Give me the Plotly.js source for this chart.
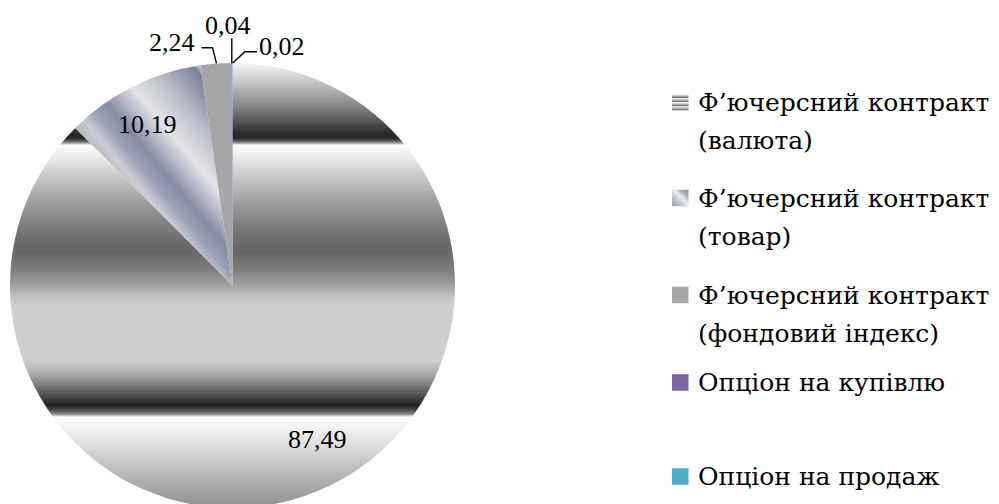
<!DOCTYPE html>
<html>
<head>
<meta charset="utf-8">
<script src="https://cdn.plot.ly/plotly-3.0.1.min.js"></script>
<style>
  html, body { margin: 0; padding: 0; background: #ffffff; overflow: hidden; }
  #chart { width: 999px; height: 508px; }
</style>
</head>
<body>
<div id="chart"></div>
<script>
// Структура обсягу торгів деривативами, %
const categories = [
  'Ф’ючерсний контракт (валюта)',
  'Ф’ючерсний контракт (товар)',
  'Ф’ючерсний контракт (фондовий індекс)',
  'Опціон на купівлю',
  'Опціон на продаж'
];
const legendLines = [
  ['Ф’ючерсний контракт', '(валюта)'],
  ['Ф’ючерсний контракт', '(товар)'],
  ['Ф’ючерсний контракт', '(фондовий індекс)'],
  ['Опціон на купівлю'],
  ['Опціон на продаж']
];
const shares = [87.49, 10.19, 2.24, 0.04, 0.02];
const sliceColors = ['#a0a0a0', '#b4b8c6', '#a6a6a6', '#8064a2', '#4bacc6'];

// page geometry (pixels)
const W = 999, H = 508;
const px = x => x / W;
const py = y => 1 - y / H;
const SERIF = 'Liberation Serif, DejaVu Serif, serif';
const SERIF_CYR = 'DejaVu Serif, serif';

// value label anchors, one per slice
const labelPos = [[317.5, 439], [147.5, 124], [172, 43], [227.5, 25], [281.5, 46.5]];
// leader lines for the small slices
const leaders = [
  [[201.5, 47.7], [212.5, 47.7], [216.5, 63.3]],
  [[231.8, 38.3], [231.8, 63.3]],
  [[257, 51.7], [245, 51.7], [232.6, 63]]
];
// legend rows: vertical centre of the first text line
const legendRowY = [102.5, 198, 295, 382.5, 476.5];
const legendLineGap = 38.5;

const fmt = v => v.toFixed(2).replace('.', ',');

const annotations = [];
shares.forEach((v, i) => {
  annotations.push({
    xref: 'paper', yref: 'paper',
    x: px(labelPos[i][0]), y: py(labelPos[i][1]),
    xanchor: 'center', yanchor: 'middle',
    text: fmt(v), showarrow: false,
    font: { family: SERIF, size: 26, color: '#000000' }
  });
});
legendLines.forEach((lines, i) => {
  lines.forEach((t, j) => {
    annotations.push({
      xref: 'paper', yref: 'paper',
      x: px(696), y: py(legendRowY[i] + j * legendLineGap),
      xanchor: 'left', yanchor: 'middle', align: 'left',
      text: t, showarrow: false,
      font: { family: SERIF_CYR, size: 25, color: '#000000' }
    });
  });
});

const shapes = [];
leaders.forEach(pts => {
  shapes.push({
    type: 'path', xref: 'paper', yref: 'paper',
    path: pts.map((p, k) => (k ? 'L' : 'M') + px(p[0]) + ',' + py(p[1])).join(' '),
    line: { color: '#000000', width: 1.4 }
  });
});
const ICON = 16.5;
legendRowY.forEach((y, i) => {
  shapes.push({
    type: 'rect', xref: 'paper', yref: 'paper',
    x0: px(672), x1: px(672 + ICON),
    y0: py(y - ICON / 2), y1: py(y + ICON / 2),
    fillcolor: sliceColors[i], line: { width: 0 }
  });
});

const trace = {
  type: 'pie',
  labels: categories,
  values: shares,
  sort: false,
  direction: 'clockwise',
  rotation: 0,
  textinfo: 'none',
  hoverinfo: 'label+value',
  marker: { colors: sliceColors, line: { width: 0 } },
  domain: { x: [px(10), px(455)], y: [0, 1 - 63 / H] },
  showlegend: false
};

const layout = {
  width: W, height: H, autosize: false,
  margin: { l: 0, r: 0, t: 0, b: 0, pad: 0 },
  paper_bgcolor: '#ffffff',
  showlegend: false,
  annotations: annotations,
  shapes: shapes
};

const SVGNS = 'http://www.w3.org/2000/svg';
function gradient(defs, id, attrs, stops) {
  const g = document.createElementNS(SVGNS, 'linearGradient');
  g.setAttribute('id', id);
  Object.keys(attrs).forEach(k => g.setAttribute(k, attrs[k]));
  stops.forEach(s => {
    const st = document.createElementNS(SVGNS, 'stop');
    st.setAttribute('offset', s[0]);
    st.setAttribute('stop-color', s[1]);
    g.appendChild(st);
  });
  defs.appendChild(g);
}

const gd = document.getElementById('chart');
Plotly.newPlot(gd, [trace], layout, { displayModeBar: false, staticPlot: true }).then(() => {
  const svg = gd.querySelector('svg.main-svg');
  let defs = svg.querySelector('defs');
  if (!defs) { defs = document.createElementNS(SVGNS, 'defs'); svg.insertBefore(defs, svg.firstChild); }

  const cd0 = gd.calcdata[0][0];
  const cx = cd0.cx, cy = cd0.cy, r = cd0.r;

  // horizontal banded shading of the large slice, keyed to pixel rows
  const top = cy - r, span = 2 * r;
  const bands = [
    [63, '#f4f4f4'], [75, '#d8d8d8'], [90, '#b0b0b0'], [105, '#8a8a8a'], [120, '#5a5a5a'],
    [133, '#2c2c2c'], [138, '#262626'], [141, '#5a5a5a'], [143.5, '#b0b0b0'], [145, '#fafafa'],
    [160, '#e6e6e6'], [180, '#c2c2c2'], [200, '#a2a2a2'], [220, '#848484'], [240, '#6e6e6e'],
    [252, '#686868'], [270, '#7e7e7e'], [285, '#a0a0a0'], [298, '#c4c4c4'], [305, '#cfcfcf'],
    [360, '#cfcfcf'], [372, '#b0b0b0'], [385, '#7c7c7c'], [397, '#484848'], [405, '#222222'],
    [410, '#4a4a4a'], [414, '#8a8a8a'], [417, '#fafafa'], [430, '#f0f0f0'], [450, '#d8d8d8'],
    [470, '#bcbcbc'], [490, '#a4a4a4'], [508, '#909090']
  ];
  gradient(defs, 'fillBands', {
    gradientUnits: 'userSpaceOnUse', x1: cx, y1: top, x2: cx, y2: top + span
  }, bands.map(b => [Math.max(0, Math.min(1, (b[0] - 63) / 445)), b[1]]));

  // diagonal metallic shading of the second slice
  const dx = 0.768, dy = -0.64, s0 = -25, s1 = 120;
  const steel = [
    [-25, '#aeb2c2'], [-8, '#c9cbd5'], [5, '#9ca2b6'], [20, '#858ba2'], [35, '#b4b8c6'],
    [50, '#e4e4e8'], [62, '#d2d4da'], [80, '#b6bac6'], [98, '#9298ac'], [110, '#7c829a'],
    [116, '#c8cad2'], [120, '#c4c6ce']
  ];
  gradient(defs, 'fillSteel', {
    gradientUnits: 'userSpaceOnUse',
    x1: cx + s0 * dx, y1: cy + s0 * dy, x2: cx + s1 * dx, y2: cy + s1 * dy
  }, steel.map(s => [(s[0] - s0) / (s1 - s0), s[1]]));

  // legend swatches
  gradient(defs, 'iconBands', {
    x1: 0, y1: 0, x2: 0, y2: 0.25, spreadMethod: 'repeat'
  }, [[0, '#f2f2f2'], [0.45, '#b0b0b0'], [0.85, '#606060'], [1, '#f2f2f2']]);
  gradient(defs, 'iconSteel', { x1: 0, y1: 1, x2: 1, y2: 0 },
    [[0, '#9aa0b4'], [0.35, '#c8cad4'], [0.55, '#ececf0'], [0.8, '#a0a6b8'], [1, '#8a90a6']]);

  const slices = gd.querySelectorAll('.pielayer .slice path.surface');
  if (slices[0]) slices[0].style.fill = 'url("#fillBands")';
  if (slices[1]) slices[1].style.fill = 'url("#fillSteel")';

  const shapePaths = gd.querySelectorAll('.layer-above .shapelayer path');
  const n = leaders.length;
  if (shapePaths[n]) shapePaths[n].style.fill = 'url("#iconBands")';
  if (shapePaths[n + 1]) shapePaths[n + 1].style.fill = 'url("#iconSteel")';
});
</script>
</body>
</html>
